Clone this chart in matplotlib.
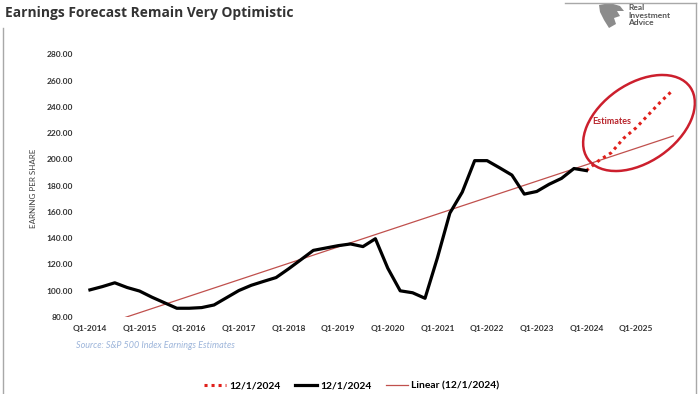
import matplotlib
matplotlib.use("Agg")
import matplotlib.pyplot as plt
from matplotlib.patches import Ellipse, Polygon
from matplotlib.lines import Line2D
from matplotlib.transforms import IdentityTransform

# quarterly categories Q1-2014 .. Q4-2025
years = list(range(2014, 2026))
quarters = ["Q%d-%d" % (q, y) for y in years for q in range(1, 5)]
tick_labels = ["Q1-%d" % y for y in years]

# trailing EPS, Q1-2014 .. Q1-2024
eps_actual = [100.5, 103.0, 105.9, 102.3, 99.6, 94.9, 90.7, 86.5, 86.5, 87.0,
              89.0, 94.5, 100.0, 104.0, 107.0, 109.9, 116.5, 123.5, 130.6, 132.4,
              134.2, 135.5, 133.5, 139.5, 117.0, 99.8, 98.3, 94.1, 125.0, 159.0,
              175.0, 199.0, 199.0, 193.6, 188.0, 173.5, 175.5, 181.0, 185.5, 193.0,
              191.4]
# estimates, Q1-2024 .. Q4-2025
eps_estimates = [191.4, 199.0, 205.0, 216.0, 224.0, 234.0, 244.0, 253.0]
# linear trend end points (Q1-2014, Q4-2025)
trend_ends = [70.6, 217.8]

x_actual = list(range(len(eps_actual)))
x_est = list(range(len(eps_actual) - 1, len(eps_actual) - 1 + len(eps_estimates)))
x_trend = [0, len(quarters) - 1]

plt.rcParams["font.family"] = ["Lato", "DejaVu Sans"]

fig = plt.figure(figsize=(7, 3.94), dpi=100)
ax = fig.add_axes([0.1143, 0.196, 0.8714, 0.666])

ax.plot(x_est, eps_estimates, color="#E0201B", lw=2.2, linestyle=(0, (1, 1.3)),
        label="12/1/2024", zorder=3)
ax.plot(x_actual, eps_actual, color="black", lw=2.3, solid_joinstyle="round",
        label="12/1/2024", zorder=4)
ax.plot(x_trend, trend_ends, color="#C0504D", lw=0.9, label="Linear (12/1/2024)", zorder=2)

ax.set_ylim(80, 280)
ax.set_yticks(range(80, 281, 20))
ax.set_yticklabels(["%.2f" % v for v in range(80, 281, 20)])
ax.set_xlim(-0.8, 48.35)
ax.set_xticks(range(0, 45, 4))
ax.set_xticklabels(tick_labels)
for s in ax.spines.values():
    s.set_visible(False)
ax.tick_params(length=0, labelsize=6, labelcolor="#333333")
ax.tick_params(axis="y", pad=5)
ax.tick_params(axis="x", pad=6)
for t in ax.get_xticklabels() + ax.get_yticklabels():
    t.set_fontweight("bold")
ax.set_ylabel("EARNING PER SHARE", fontsize=5.8, color="#404040", labelpad=8)
ax.yaxis.set_label_coords(-0.07, 0.49)

fig.text(0.007, 0.968, "Earnings Forecast Remain Very Optimistic", fontsize=9.9,
         fontweight="bold", color="#333333", family=["Open Sans", "DejaVu Sans"], va="center")
fig.text(0.108, 1 - 345 / 394, "Source: S&P 500 Index Earnings Estimates", fontsize=6.5,
         style="italic", color="#9DB5DA", va="center")

# estimates callout
ell = Ellipse((639, 394 - 123), 125, 78, angle=35, fill=False, ec="#CC1F2D", lw=1.8,
              transform=IdentityTransform())
fig.add_artist(ell)
fig.text(612 / 700, 1 - 122 / 394, "Estimates", fontsize=6.5, fontweight="bold",
         color="#B8242B", ha="center", va="center")

# logo (rough eagle head)
logo = Polygon([[599, 394 - 5], [610, 394 - 3], [620, 394 - 6], [624, 394 - 11],
                [617, 394 - 11], [620, 394 - 16], [614, 394 - 18], [616, 394 - 24],
                [609, 394 - 28], [604, 394 - 20], [600, 394 - 12]],
               closed=True, fc="#8C8C8C", ec="none", transform=IdentityTransform())
fig.add_artist(logo)
fig.text(628 / 700, 1 - 15 / 394, "Real\nInvestment\nAdvice", fontsize=6, fontweight="bold",
         color="#555555", va="center", ha="left", linespacing=1.1)

# frame
border = "#A8A8A8"
fig.add_artist(Line2D([2.5 / 700, 2.5 / 700], [0, 1 - 28 / 394], color=border, lw=1))
fig.add_artist(Line2D([696 / 700, 696 / 700], [0, 1 - 2.5 / 394], color=border, lw=1))
fig.add_artist(Line2D([565 / 700, 696 / 700], [1 - 2.5 / 394, 1 - 2.5 / 394], color=border, lw=1))

fig.legend(loc="center", bbox_to_anchor=(0.502, 1 - 386 / 394), ncol=3, frameon=False,
           handlelength=2.2, columnspacing=1.4, handletextpad=0.25,
           prop={"weight": "bold", "size": 7.4})

fig.savefig("out.png", dpi=100)
